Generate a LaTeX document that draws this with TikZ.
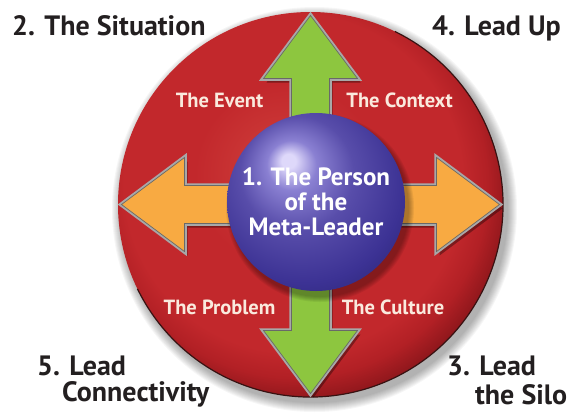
\documentclass[tikz,border=0pt]{standalone}
\usepackage{fontspec}
\setmainfont{PT Sans}
\usetikzlibrary{calc}
\definecolor{labelblack}{RGB}{35,31,32}
\definecolor{cream}{RGB}{250,234,222}
\definecolor{arrowgreen}{RGB}{141,198,63}
\definecolor{arroworange}{RGB}{248,170,66}
\definecolor{rimgray}{RGB}{168,168,168}
\definecolor{rimdark}{RGB}{105,105,105}
\definecolor{redA}{RGB}{208,64,60}
\definecolor{redB}{RGB}{194,40,44}
\definecolor{redC}{RGB}{178,32,37}
\definecolor{redD}{RGB}{140,22,27}
\definecolor{darkrim}{RGB}{55,18,18}
\definecolor{sphA}{RGB}{222,216,250}
\definecolor{sphB}{RGB}{138,128,210}
\definecolor{sphC}{RGB}{88,77,170}
\definecolor{sphD}{RGB}{60,50,148}
\definecolor{sphE}{RGB}{42,36,115}
\pgfdeclareradialshading{redshade}{\pgfpoint{-4bp}{5bp}}{color(0bp)=(redA); color(12bp)=(redB); color(22bp)=(redB); color(25bp)=(redC); color(28bp)=(redD); color(50bp)=(redD)}
\pgfdeclareradialshading{sphereshade}{\pgfpoint{-8bp}{12bp}}{color(0bp)=(sphA); color(2bp)=(sphA); color(7bp)=(sphB); color(16bp)=(sphC); color(28bp)=(sphD); color(37bp)=(sphE); color(50bp)=(sphE)}
\tikzset{
  arrowshape/.pic={\path[pic actions] (60,-19) -- (126,-19) -- (126,-47) -- (189,0) -- (126,47) -- (126,19) -- (60,19) -- cycle;},
  shadowarrow/.style={fill=black, fill opacity=0.35},
  rimarrow/.style={draw=rimgray, line width=4.5pt, line join=miter},
  greenarrow/.style={fill=arrowgreen, draw=rimdark, line width=0.7pt},
  orangearrow/.style={fill=arroworange, draw=rimdark, line width=0.7pt},
  cornerlabel/.style={font=\fontsize{28}{30}\selectfont\bfseries, text=labelblack, inner sep=0pt},
  innerlabel/.style={font=\fontsize{20.5}{22}\selectfont\bfseries, text=cream, inner sep=0pt},
  centerlabel/.style={font=\fontsize{25}{25}\selectfont\bfseries, text=white, inner sep=0pt, align=center}
}
\begin{document}
\begin{tikzpicture}[x=1pt,y=-1pt]
\useasboundingbox (0,0) rectangle (569,416);
\coordinate (c) at (310.5,204.5);
\coordinate (s) at (316,202);
% shadow of the red disk
\foreach \k in {0,...,9}
  \fill[black,opacity=0.035] ($(c)+(4,5)$) circle[radius={(202.5-\k)*1pt}];
% red disk
\shade[shading=redshade] (c) circle[radius=192.5pt];
\draw[darkrim, line width=1.2pt] ([shift={(64:192.5pt)}]c) arc[start angle=64, end angle=-154, radius=192.5pt];
% arrows: shadows
\pic[shift={(3,4)}, rotate=90, shadowarrow] at (c) {arrowshape};
\pic[shift={(3,4)}, rotate=-90, shadowarrow] at (c) {arrowshape};
\pic[shift={(3,4)}, rotate=180, shadowarrow] at (c) {arrowshape};
\pic[shift={(3,4)}, rotate=0, shadowarrow] at (c) {arrowshape};
% arrows: rims
\pic[rotate=90, rimarrow] at (c) {arrowshape};
\pic[rotate=-90, rimarrow] at (c) {arrowshape};
\pic[rotate=180, rimarrow] at (c) {arrowshape};
\pic[rotate=0, rimarrow] at (c) {arrowshape};
% arrows: bodies
\pic[rotate=90, greenarrow] at (c) {arrowshape};
\pic[rotate=-90, greenarrow] at (c) {arrowshape};
\pic[rotate=180, orangearrow] at (c) {arrowshape};
\pic[rotate=0, orangearrow] at (c) {arrowshape};
% sphere shadow and sphere
\foreach \k in {0,...,5}
  \fill[black,opacity=0.06] ($(s)+(4,6)$) circle[radius={(94-\k)*1pt}];
\shade[shading=sphereshade] (s) circle[radius=89pt];
% texts
\node[centerlabel] (person) at (316,202) {1. The Person\\of the\\Meta-Leader};
\node[innerlabel, anchor=base] (event) at (219.5,107) {The Event};
\node[innerlabel, anchor=base] (context) at (399.5,107) {The Context};
\node[innerlabel, anchor=base] (problem) at (219.5,314) {The Problem};
\node[innerlabel, anchor=base] (culture) at (393,314) {The Culture};
\node[cornerlabel, anchor=base west] (situation) at (12,35) {2. The Situation};
\node[cornerlabel, anchor=base east] (leadup) at (561,35) {4. Lead Up};
\node[cornerlabel, anchor=base west] (lead5) at (37,375) {5. Lead};
\node[cornerlabel, anchor=base west] (connect) at (62,401) {Connectivity};
\node[cornerlabel, anchor=base west] (lead3) at (447,375) {3. Lead};
\node[cornerlabel, anchor=base west] (silo) at (475,404) {the Silo};
\end{tikzpicture}
\end{document}
